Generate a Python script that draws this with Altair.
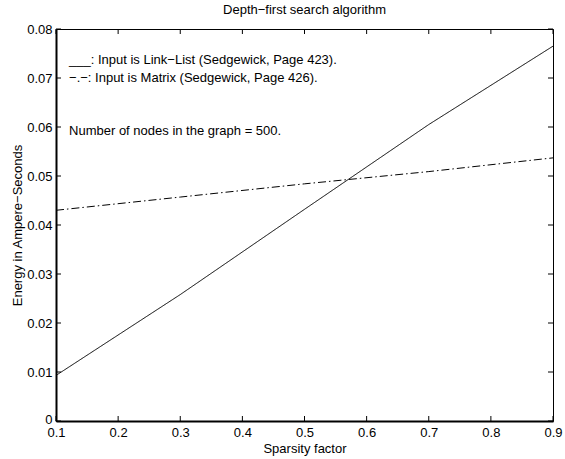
import altair as alt
import pandas as pd

# ---- data ----
x_vals = [0.1, 0.3, 0.5, 0.7, 0.9]
link_list = [0.0093, 0.0258, 0.0432, 0.0605, 0.0765]
matrix = [0.0430, 0.0457, 0.0484, 0.0509, 0.0537]

x_ticks = [0.1, 0.2, 0.3, 0.4, 0.5, 0.6, 0.7, 0.8, 0.9]
y_ticks = [0, 0.01, 0.02, 0.03, 0.04, 0.05, 0.06, 0.07, 0.08]

ann_text = [
    "___: Input is Link\u2212List (Sedgewick, Page 423).",
    "\u2212.\u2212: Input is Matrix (Sedgewick, Page 426).",
    "Number of nodes in the graph = 500.",
]
ann_x = [0.121, 0.121, 0.121]
ann_y = [0.0736, 0.0699, 0.0591]

series_names = ["Link-List", "Matrix"]

# ---- layout / style ----
W, H = 497, 392
FONT = "Liberation Sans"
TICK = 5
FS = 13

df = pd.DataFrame({
    "x": x_vals * 2,
    "y": link_list + matrix,
    "series": [series_names[0]] * len(x_vals) + [series_names[1]] * len(x_vals),
})
ann = pd.DataFrame({"x": ann_x, "y": ann_y, "text": ann_text})
xt = pd.DataFrame({"x": x_ticks})
yt = pd.DataFrame({"y": y_ticks})

xs = alt.Scale(domain=[0.1, 0.9], nice=False, zero=False)
ys = alt.Scale(domain=[0, 0.08], nice=False, zero=False)

common_axis = dict(
    ticks=False, domain=True, domainColor="black", domainWidth=2, grid=False,
    labelFontSize=FS, titleFontSize=FS, labelFont=FONT, titleFont=FONT,
    labelColor="black", titleColor="black", titleFontWeight="normal",
    labelFlush=False, labelOverlap=False,
)

lines = alt.Chart(df).mark_line(color="black", strokeWidth=1).encode(
    x=alt.X("x:Q", scale=xs, axis=alt.Axis(
        values=x_ticks, format=".1f", title="Sparsity factor",
        labelPadding=5, titlePadding=3, **common_axis)),
    y=alt.Y("y:Q", scale=ys, axis=alt.Axis(
        values=y_ticks,
        labelExpr="datum.value == 0 ? '0' : format(datum.value, '.2f')",
        labelOffset={"condition": {"test": "datum.value == 0", "value": -2}, "value": 0},
        title="Energy in Ampere\u2212Seconds",
        labelPadding=4, titlePadding=2, **common_axis)),
    strokeDash=alt.StrokeDash("series:N", scale=alt.Scale(
        domain=series_names, range=[[1, 0], [8, 3, 1.5, 3]]), legend=None),
    detail="series:N",
)

tick_style = dict(color="black", strokeWidth=1)
bottom_ticks = alt.Chart(xt).mark_rule(**tick_style).encode(
    x=alt.X("x:Q", scale=xs), y=alt.value(H), y2=alt.value(H - TICK))
top_ticks = alt.Chart(xt).mark_rule(**tick_style).encode(
    x=alt.X("x:Q", scale=xs), y=alt.value(0), y2=alt.value(TICK))
left_ticks = alt.Chart(yt).mark_rule(**tick_style).encode(
    y=alt.Y("y:Q", scale=ys), x=alt.value(0), x2=alt.value(TICK))
right_ticks = alt.Chart(yt).mark_rule(**tick_style).encode(
    y=alt.Y("y:Q", scale=ys), x=alt.value(W), x2=alt.value(W - TICK))

texts = alt.Chart(ann).mark_text(
    align="left", baseline="middle", font=FONT, fontSize=FS, color="black"
).encode(x=alt.X("x:Q", scale=xs), y=alt.Y("y:Q", scale=ys), text="text:N")

chart = alt.layer(lines, bottom_ticks, top_ticks, left_ticks, right_ticks, texts).properties(
    width=W, height=H,
    title=alt.TitleParams("Depth\u2212first search algorithm", fontSize=FS,
                          fontWeight="normal", font=FONT, color="black",
                          anchor="middle", offset=6),
    autosize=alt.AutoSizeParams(type="none"),
    padding={"left": 56, "top": 29, "right": 12, "bottom": 38},
    background="white",
).configure_view(stroke="black", strokeWidth=1)

chart.save("out.html", embed_options={"renderer": "svg", "actions": False})
